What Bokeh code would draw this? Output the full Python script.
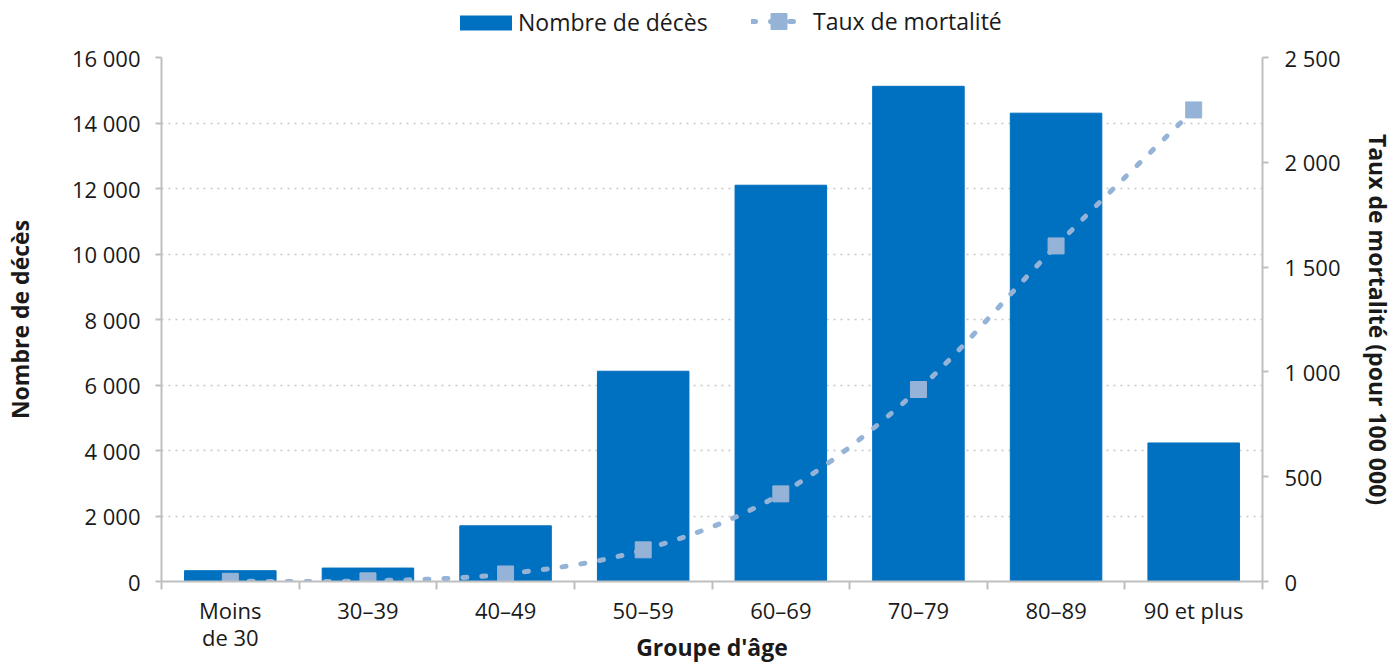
from bokeh.plotting import figure
from bokeh.layouts import column
from bokeh.models import (ColumnDataSource, Range1d, LinearAxis, FixedTicker,
                          Legend, LegendItem)
from bokeh.embed import file_html
from bokeh.resources import INLINE

# ---------------- data ----------------
categories = ["Moins\nde 30", "30–39", "40–49", "50–59", "60–69", "70–79", "80–89", "90 et plus"]
deaths = [330, 410, 1700, 6420, 12100, 15120, 14300, 4230]
rates = [1, 3, 36, 151, 418, 916, 1601, 2250]

left_ticks = [0, 2000, 4000, 6000, 8000, 10000, 12000, 14000, 16000]
left_tick_labels = ["0", "2 000", "4 000", "6 000", "8 000", "10 000", "12 000", "14 000", "16 000"]
right_ticks = [0, 500, 1000, 1500, 2000, 2500]
right_tick_labels = ["0", "500", "1 000", "1 500", "2 000", "2 500"]

series_bar = "Nombre de décès"
series_line = "Taux de mortalité"
x_title = "Groupe d'âge"
y_title = "Nombre de décès"
y2_title = "Taux de mortalité (pour 100 000)"

# ---------------- style ----------------
FONT = "Open Sans"
TICK_FS = "22px"
TITLE_FS = "23px"
LEG_FS = "23px"
BAR = "#0070C0"
LINE = "#95B3D7"
AXIS = "#BFBFBF"
TXT = "#1a1a1a"
LINE_W = 5
LINE_DASH = "4 15"
MARK_SIZE = 16

n = len(categories)
xs = [i + 0.5 for i in range(n)]
src = ColumnDataSource(dict(x=xs, deaths=deaths, rates=rates))

# ---------------- main chart ----------------
p = figure(width=1396, height=625, x_range=Range1d(0, n), y_range=Range1d(0, 16000),
           output_backend="svg", toolbar_location=None,
           min_border_left=160, min_border_right=134, min_border_top=16, min_border_bottom=85)
p.extra_y_ranges = {"rate": Range1d(0, 2500)}
p.outline_line_color = None
p.background_fill_color = "white"
p.border_fill_color = "white"

p.vbar(x="x", top="deaths", width=0.665, source=src, fill_color=BAR, line_color=BAR)

# smooth (Excel-like) curve through the rate points, drawn as cubic Bezier segments
def ctrl(i, s):
    i0 = max(i - 1, 0)
    i1 = min(i + 1, n - 1)
    return (xs[i] + s * (xs[i1] - xs[i0]) / 6.0, rates[i] + s * (rates[i1] - rates[i0]) / 6.0)

bz = dict(x0=[], y0=[], x1=[], y1=[], cx0=[], cy0=[], cx1=[], cy1=[])
for i in range(n - 1):
    c0 = ctrl(i, 1)
    c1 = ctrl(i + 1, -1)
    bz["x0"].append(xs[i]); bz["y0"].append(rates[i])
    bz["x1"].append(xs[i + 1]); bz["y1"].append(rates[i + 1])
    bz["cx0"].append(c0[0]); bz["cy0"].append(c0[1])
    bz["cx1"].append(c1[0]); bz["cy1"].append(c1[1])
p.bezier(x0="x0", y0="y0", x1="x1", y1="y1", cx0="cx0", cy0="cy0", cx1="cx1", cy1="cy1",
         source=ColumnDataSource(bz), y_range_name="rate",
         line_color=LINE, line_width=LINE_W, line_dash=LINE_DASH, line_cap="round")
p.scatter(x="x", y="rates", source=src, y_range_name="rate", marker="square",
          size=MARK_SIZE, fill_color=LINE, line_color=LINE)

# ---------------- axes ----------------
def style_axis(ax, title, title_standoff):
    ax.axis_line_color = AXIS
    ax.axis_line_width = 2
    ax.major_tick_line_color = AXIS
    ax.major_tick_line_width = 2
    ax.minor_tick_line_color = AXIS
    ax.minor_tick_line_width = 2
    ax.major_tick_in = 0
    ax.minor_tick_in = 0
    ax.major_label_text_font = FONT
    ax.major_label_text_font_size = TICK_FS
    ax.major_label_text_color = TXT
    ax.axis_label = title
    ax.axis_label_text_font = FONT
    ax.axis_label_text_font_size = TITLE_FS
    ax.axis_label_text_font_style = "bold"
    ax.axis_label_text_color = TXT
    ax.axis_label_standoff = title_standoff

xa = p.xaxis[0]
style_axis(xa, x_title, -24)
xa.ticker = FixedTicker(ticks=xs, minor_ticks=list(range(n + 1)))
xa.major_label_overrides = {x: c for x, c in zip(xs, categories)}
xa.major_tick_out = 0
xa.minor_tick_out = 8
xa.major_label_standoff = 5
xa.major_label_text_line_height = 0.92

ya = p.yaxis[0]
style_axis(ya, y_title, 33)
ya.ticker = FixedTicker(ticks=left_ticks, minor_ticks=[])
ya.major_label_overrides = {t: l for t, l in zip(left_ticks, left_tick_labels)}
ya.major_tick_out = 6
ya.minor_tick_out = 0
ya.major_label_standoff = 15

ra = LinearAxis(y_range_name="rate")
style_axis(ra, y2_title, 18)
ra.ticker = FixedTicker(ticks=right_ticks, minor_ticks=[])
ra.major_label_overrides = {t: l for t, l in zip(right_ticks, right_tick_labels)}
ra.major_tick_out = 6
ra.minor_tick_out = 0
ra.major_label_standoff = 16
p.add_layout(ra, "right")

p.xgrid.grid_line_color = None
p.ygrid.ticker = FixedTicker(ticks=left_ticks)
p.ygrid.grid_line_color = "#C8C8C8"
p.ygrid.grid_line_width = 1.5
p.ygrid.grid_line_dash = "2 5"

# ---------------- legend strip (top) ----------------
# the strip's y range lies below every value, so its renderers only feed the legend
lf = figure(width=1396, height=41, x_range=Range1d(0, n), y_range=Range1d(-2, -1),
            x_axis_type=None, y_axis_type=None, output_backend="svg", toolbar_location=None,
            min_border=0)
lf.outline_line_color = None
lf.background_fill_color = "white"
lf.border_fill_color = "white"
lbar = lf.vbar(x="x", top="deaths", width=0, source=src, fill_color=BAR, line_color=None)
lline = lf.line(x="x", y="rates", source=src, line_color=LINE, line_width=LINE_W,
                line_dash=LINE_DASH, line_cap="round")
lmark = lf.scatter(x="x", y="rates", source=src, marker="square", size=MARK_SIZE,
                   fill_color=LINE, line_color=LINE)

def style_legend(lg):
    lg.padding = 0
    lg.margin = 0
    lg.spacing = 0
    lg.border_line_color = None
    lg.background_fill_alpha = 0
    lg.label_text_font = FONT
    lg.label_text_font_size = LEG_FS
    lg.label_text_color = TXT

lg1 = Legend(items=[LegendItem(label=series_bar, renderers=[lbar])],
             location=(292, 3), glyph_width=65, glyph_height=19, label_standoff=0)
style_legend(lg1)
lg2 = Legend(items=[LegendItem(label=series_line, renderers=[lline, lmark])],
             location=(590, 0), glyph_width=55, glyph_height=40, label_standoff=7)
style_legend(lg2)
lf.add_layout(lg1, "center")
lf.add_layout(lg2, "center")

layout = column(lf, p, spacing=0)
open("out.html", "w").write(file_html(layout, INLINE))
